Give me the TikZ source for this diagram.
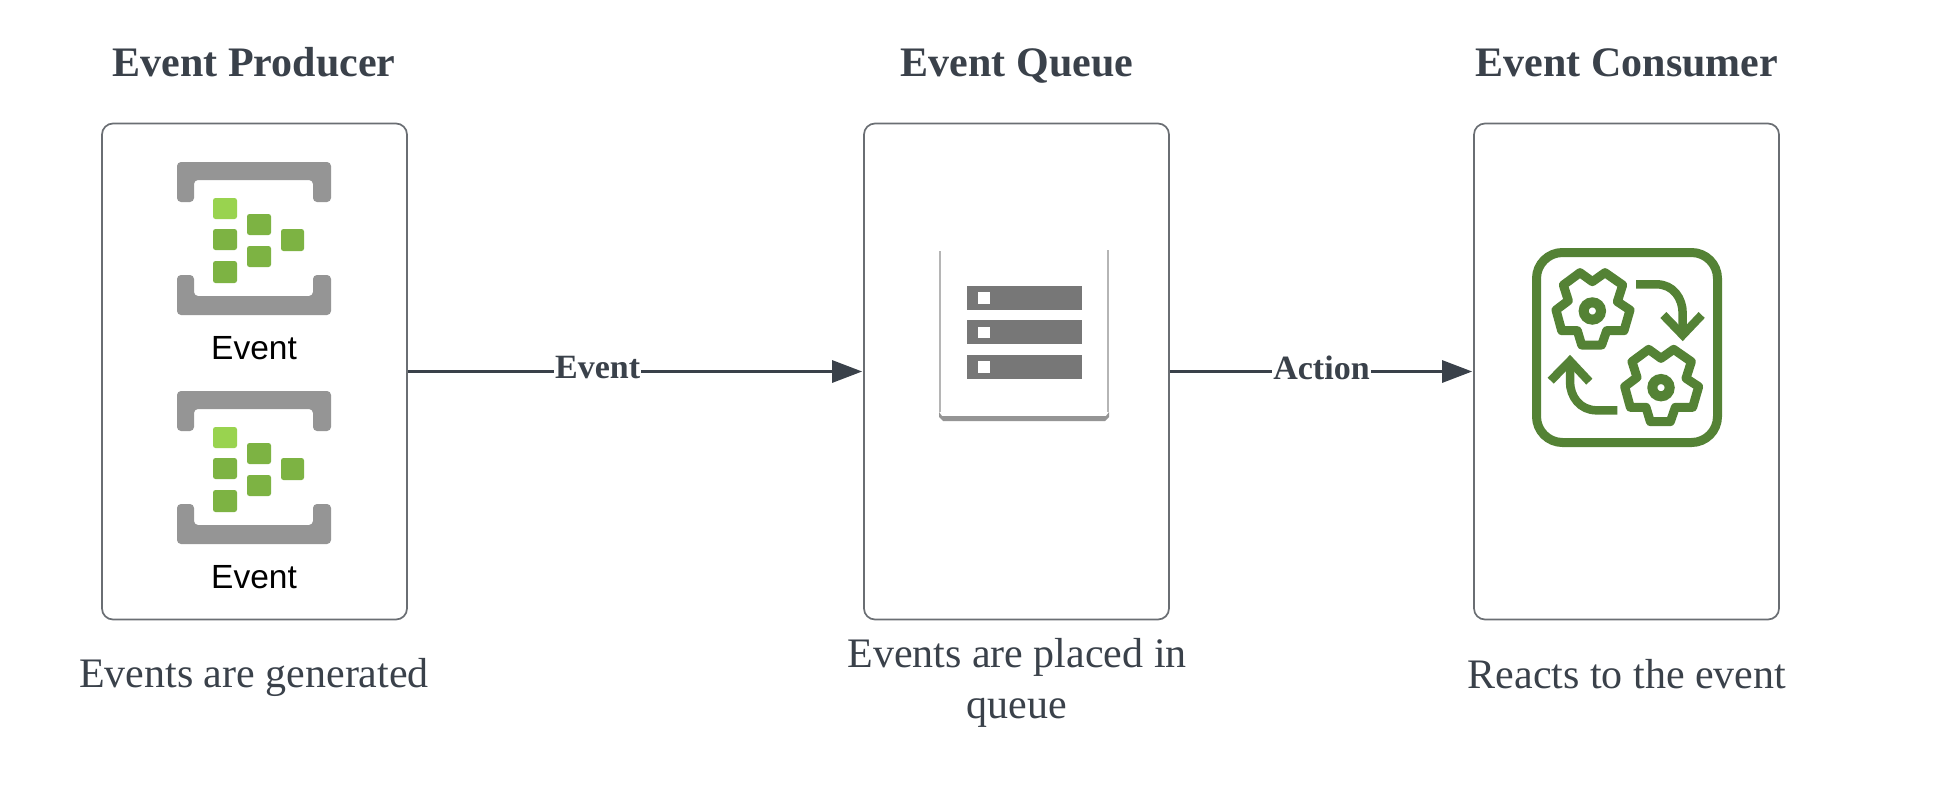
\documentclass[tikz,border=0pt]{standalone}
\usepackage{fontspec}
\setmainfont{Liberation Serif}
\newfontfamily\evsans{Liberation Sans}
\usetikzlibrary{arrows.meta}
\definecolor{ink}{HTML}{3A414A}
\definecolor{edge}{HTML}{6A6E73}
\definecolor{brk}{HTML}{959595}
\definecolor{barc}{HTML}{777777}
\definecolor{lightg}{HTML}{99D34F}
\definecolor{midg}{HTML}{7DB343}
\definecolor{gearg}{HTML}{548235}
\tikzset{
  x=1pt,y=-1pt,
  panel/.style={draw=edge,line width=1.7pt,rounded corners=11pt,minimum width=305pt,minimum height=496pt,inner sep=0pt},
  title/.style={font=\fontsize{42}{42}\selectfont\bfseries,text=ink,inner sep=0pt,anchor=base},
  descr/.style={font=\fontsize{42}{51}\selectfont,text=ink,inner sep=0pt,align=center},
  evlabel/.style={font=\evsans\fontsize{33.5}{33.5}\selectfont,text=black,inner sep=0pt,anchor=base},
  flow/.style={draw=ink,line width=3pt,-{Triangle[length=30pt,width=22pt]},shorten >=1pt},
  flowlabel/.style={font=\fontsize{34}{34}\selectfont\bfseries,text=ink,fill=white,inner sep=1pt},
  gearline/.style={draw=gearg,line width=9pt,line join=round},
  cell/.style={fill=midg,rounded corners=2.5pt},
  brack/.style={fill=brk,rounded corners=4pt},
  evicon/.pic={
    \fill[brack] (177,162) -- (331,162) -- (331,202) -- (313,202) -- (313,180) -- (194,180) -- (194,202) -- (177,202) -- cycle;
    \fill[brack] (177,275) -- (194,275) -- (194,296) -- (313,296) -- (313,275) -- (331,275) -- (331,315) -- (177,315) -- cycle;
    \fill[cell,fill=lightg] (213,198) rectangle (237,219);
    \fill[cell] (247,214) rectangle (271,235);
    \fill[cell] (213,229) rectangle (237,250);
    \fill[cell] (281,229) rectangle (304,251);
    \fill[cell] (247,246) rectangle (271,267);
    \fill[cell] (213,261) rectangle (237,283);
  },
  gearpic/.pic={
    \draw[gearline] (0,-88) -- (38,-115) -- (91,-78) -- (75,-28) -- (113,-3) -- (95,59) -- (43,59) -- (28,102) -- (-32,102) -- (-45,59) -- (-92,59) -- (-109,-3) -- (-72,-31) -- (-87,-78) -- (-37,-115) -- cycle;
    \draw[draw=gearg,line width=10pt] (0,0) circle[radius=26];
  }
}
\begin{document}
\begin{tikzpicture}
\useasboundingbox (0,0) rectangle (1954,790);
\fill[white] (0,0) rectangle (1954,790);

\node[title] (t1) at (254,76) {Event Producer};
\node[title] (t2) at (1017,76) {Event Queue};
\node[title] (t3) at (1627,76) {Event Consumer};

\node[panel] (prod) at (254.5,371.5) {};
\node[panel] (queue) at (1016.5,371.5) {};
\node[panel] (cons) at (1626.5,371.5) {};

\pic {evicon};
\pic at (0,229) {evicon};
\node[evlabel] (e1) at (254,359) {Event};
\node[evlabel] (e2) at (254,588) {Event};

% queue icon
\draw[draw=brk!70,line width=2.2pt] (940,251) -- (940,412);
\draw[draw=brk!70,line width=2.2pt] (1108,250) -- (1108,412);
\fill[brk] (939,412) -- (942,416) -- (1106,416) -- (1109,412) -- (1109,417) -- (1105,421) -- (943,421) -- (939,417) -- cycle;
\foreach \y/\k in {286/292,320/326.5,355/361}{
  \fill[barc] (967,\y) rectangle (1082,\y+23.5);
  \fill[white] (978,\k) rectangle (990,\k+11.5);
}

% consumer icon
\draw[draw=gearg,line width=9pt,rounded corners=26pt] (1536.5,252.5) rectangle (1717.5,442.5);
\begin{scope}[shift={(1500,230)},scale=1/3]
  \pic[transform shape] at (277,243) {gearpic};
  \pic[transform shape] at (483,473) {gearpic};
  \draw[draw=gearg,line width=8.5pt] (408,163) -- (470,163) .. controls (520,163) and (548,205) .. (548,250) -- (548,310);
  \draw[draw=gearg,line width=8.5pt] (490,255) -- (548,315) -- (605,255);
  \draw[draw=gearg,line width=8.5pt] (352,541) -- (290,541) .. controls (240,541) and (210,500) .. (210,455) -- (210,395);
  \draw[draw=gearg,line width=8.5pt] (152,452) -- (210,393) -- (268,455);
\end{scope}

\draw[flow] (prod.east) -- node[flowlabel,pos=0.417,yshift=3.5pt] (l1) {Event} (queue.west);
\draw[flow] (queue.east) -- node[flowlabel,pos=0.5,yshift=4pt] (l2) {Action} (cons.west);

\node[descr,anchor=base] (d1) at (254,687) {Events are generated};
\node[descr] (d2) at (1017,683) {Events are placed in\\queue};
\node[descr,anchor=base] (d3) at (1627,688) {Reacts to the event};
\end{tikzpicture}
\end{document}
